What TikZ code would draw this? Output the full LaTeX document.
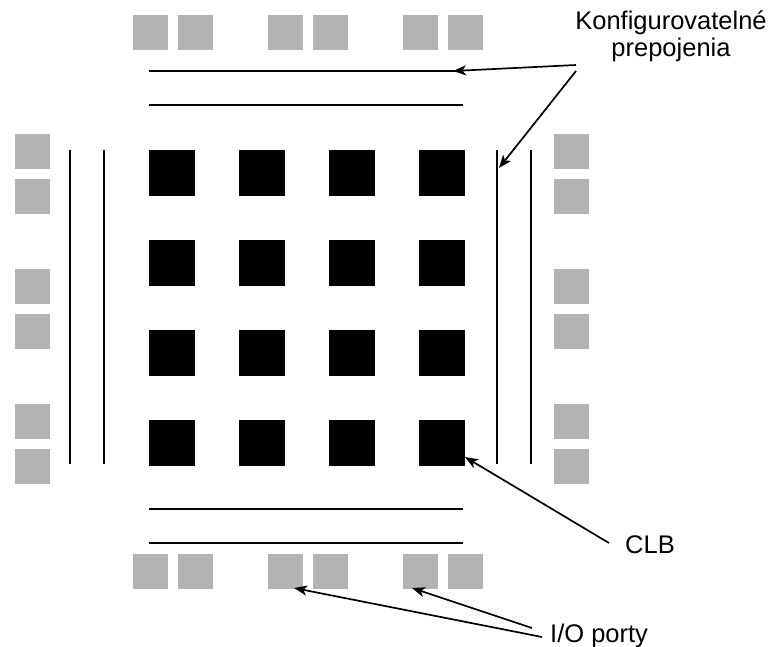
\documentclass[tikz,border=0pt]{standalone}
\usepackage{fontspec}
\setmainfont{Liberation Sans}
\usetikzlibrary{arrows.meta}
\definecolor{iogray}{RGB}{179,179,179}
\begin{document}
\begin{tikzpicture}[x=1pt,y=-1pt,
  iobox/.style={rectangle,fill=iogray,minimum size=35pt,inner sep=0pt},
  clbbox/.style={rectangle,fill=black,minimum size=46.5pt,inner sep=0pt},
  wire/.style={line width=1.9pt},
  pointer/.style={line width=1.7pt,-{Stealth[length=13pt,width=10pt,inset=3.5pt]}},
  lbl/.style={font=\fontsize{25.5}{27}\selectfont,inner sep=0pt,align=center}]
\useasboundingbox (0,0) rectangle (771,646);
% CLB grid
\foreach \i/\x in {1/172,2/262,3/352,4/442}
  \foreach \j/\y in {1/173,2/263,3/353,4/443}
    \node[clbbox] (c\i\j) at (\x,\y) {};
% I/O ports top and bottom
\foreach \k/\x in {1/150,2/195,3/285,4/330,5/420,6/465}{
  \node[iobox] (t\k) at (\x,32) {};
  \node[iobox] (b\k) at (\x,571.5) {};
}
% I/O ports left and right
\foreach \k/\y in {1/151,2/196,3/286,4/331,5/421,6/466}{
  \node[iobox] (l\k) at (32,\y) {};
  \node[iobox] (r\k) at (571,\y) {};
}
% interconnect lines
\coordinate (h1a) at (149,71);  \coordinate (h1b) at (463,71);
\coordinate (h2a) at (149,105); \coordinate (h2b) at (463,105);
\coordinate (h3a) at (149,509); \coordinate (h3b) at (463,509);
\coordinate (h4a) at (149,543); \coordinate (h4b) at (463,543);
\coordinate (v1a) at (70,150);  \coordinate (v1b) at (70,464);
\coordinate (v2a) at (104,150); \coordinate (v2b) at (104,464);
\coordinate (v3a) at (497,150); \coordinate (v3b) at (497,464);
\coordinate (v4a) at (531,150); \coordinate (v4b) at (531,464);
\foreach \p in {h1,h2,h3,h4,v1,v2,v3,v4}
  \draw[wire] (\p a) -- (\p b);
% labels
\node[lbl,anchor=base] (konf) at (671,56) {Konfigurovatelné\\prepojenia};
\node[lbl,anchor=base west] (clb) at (625,553) {CLB};
\node[lbl,anchor=base west] (io) at (550,642) {I/O porty};
% arrows
\coordinate (k1) at (576,65);
\coordinate (k2) at (576,71);
\coordinate (kt1) at (453,71);
\coordinate (kt2) at (499,168);
\coordinate (cs) at (609,543);
\coordinate (ct) at (465,457);
\coordinate (i1) at (532,628);
\coordinate (i2) at (542,637);
\coordinate (it1) at (412,588);
\coordinate (it2) at (294,588);
\draw[pointer] (k1) -- (kt1);
\draw[pointer] (k2) -- (kt2);
\draw[pointer] (cs) -- (ct);
\draw[pointer] (i1) -- (it1);
\draw[pointer] (i2) -- (it2);
\end{tikzpicture}
\end{document}
